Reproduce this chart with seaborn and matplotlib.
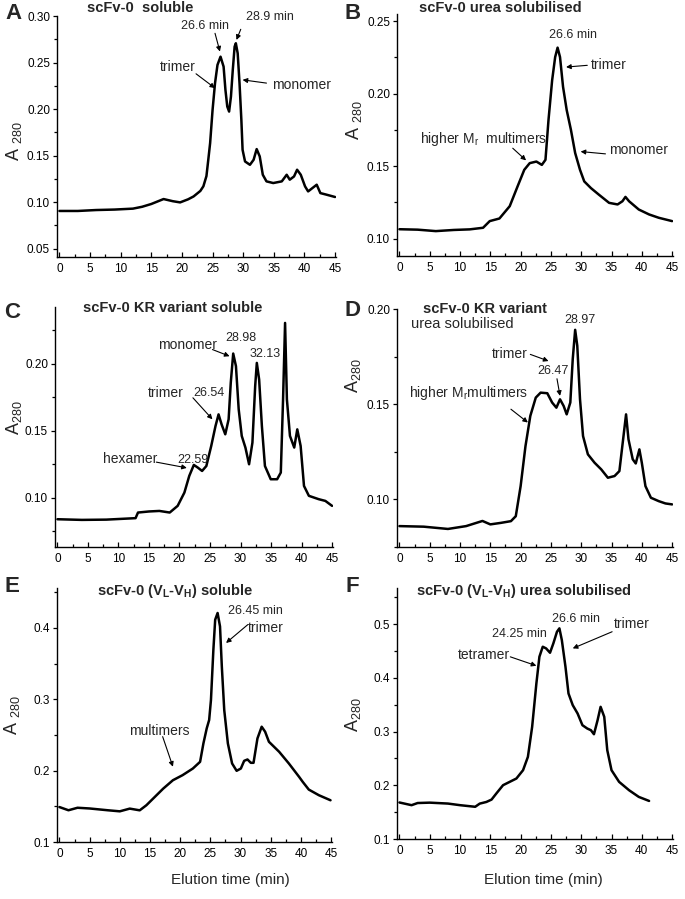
import matplotlib
matplotlib.use('Agg')
import matplotlib.pyplot as plt
from matplotlib.ticker import MultipleLocator, FormatStrFormatter
import seaborn as sns

sns.set_theme(style='ticks')
plt.rcParams['font.family'] = ['Liberation Sans', 'DejaVu Sans']
plt.rcParams['mathtext.default'] = 'regular'

# A: scFv-0 soluble
t_a = [0, 3, 6, 9, 12, 13.5, 15, 17, 18.5, 19.7, 21, 21.9, 23, 23.5, 24, 24.3, 24.6, 25.0, 25.4, 25.8,
       26.3, 26.8, 27.1, 27.4, 27.7, 28.0, 28.3, 28.6, 28.8, 29.1, 29.4, 29.7, 29.9, 30.3, 31.1, 31.7,
       32.2, 32.7, 33.2, 33.8, 34.9, 36.3, 37.1, 37.6, 38.3, 38.8, 39.4, 40.1, 40.6, 41.3, 42.0, 42.6,
       43.6, 45.0]
a_a = [0.0905, 0.0905, 0.0915, 0.092, 0.093, 0.095, 0.098, 0.1033, 0.101, 0.0997, 0.103, 0.1061, 0.112,
       0.117, 0.128, 0.1455, 0.1634, 0.1991, 0.2278, 0.2474, 0.2563, 0.2456, 0.2206, 0.2027, 0.1973,
       0.2134, 0.2421, 0.2671, 0.2707, 0.2599, 0.2278, 0.1884, 0.1562, 0.1437, 0.1401, 0.1455, 0.157,
       0.1491, 0.1294, 0.1223, 0.1205, 0.1223, 0.1294, 0.1241, 0.1276, 0.1348, 0.1294, 0.1169, 0.1115,
       0.1151, 0.1187, 0.1097, 0.108, 0.1055]

# B: scFv-0 urea solubilised
t_b = [0, 3, 6, 9, 11.6, 13.8, 14.9, 16.5, 18.2, 19.5, 20.6, 21.5, 22.6, 23.5, 24.1, 24.6, 25.2, 25.7,
       26.1, 26.5, 27.0, 27.6, 28.3, 29.0, 29.8, 30.5, 31.6, 32.9, 34.6, 36.0, 36.8, 37.3, 37.9, 39.5,
       41.2, 42.8, 45.0]
a_b = [0.1065, 0.1062, 0.1052, 0.106, 0.1064, 0.1075, 0.1121, 0.1139, 0.1224, 0.1361, 0.1475, 0.1521,
       0.1532, 0.1509, 0.1544, 0.1819, 0.2093, 0.2253, 0.2318, 0.2253, 0.2048, 0.1888, 0.1751, 0.1591,
       0.1475, 0.1395, 0.1349, 0.1304, 0.1247, 0.1236, 0.1258, 0.1288, 0.1258, 0.1201, 0.1167, 0.1144,
       0.1121]

# C: scFv-0 KR variant soluble
t_c = [0, 4, 8, 12.8, 13.2, 15, 16.7, 18.4, 19.7, 20.8, 21.6, 22.35, 23.0, 23.7, 24.4, 25.2, 25.9, 26.4,
       26.9, 27.5, 28.05, 28.4, 28.8, 29.25, 29.7, 30.2, 30.8, 31.4, 31.95, 32.4, 32.67, 33.05, 33.5, 34.0,
       34.95, 36.0, 36.6, 36.97, 37.3, 37.6, 38.1, 38.8, 39.3, 39.85, 40.4, 41.2, 42.8, 43.9, 45.0]
a_c = [0.0838, 0.0833, 0.0835, 0.0846, 0.0888, 0.0896, 0.090, 0.0888, 0.0938, 0.1037, 0.1162, 0.1244,
       0.1224, 0.1199, 0.1236, 0.1386, 0.1535, 0.1622, 0.1547, 0.1473, 0.1585, 0.1858, 0.2077, 0.1983,
       0.166, 0.1461, 0.1374, 0.1249, 0.1411, 0.1833, 0.2007, 0.1883, 0.1535, 0.1236, 0.1137, 0.1137,
       0.1187, 0.1734, 0.2306, 0.1734, 0.1461, 0.1374, 0.151, 0.1386, 0.1087, 0.1013, 0.0988, 0.0975,
       0.0938]

# D: scFv-0 KR variant urea solubilised
t_d = [0, 4, 8, 11, 13.7, 15, 16.75, 18.4, 19.2, 20.0, 20.8, 21.6, 22.5, 23.3, 24.4, 25.2, 25.9, 26.5,
       27.1, 27.6, 28.2, 28.6, 29.0, 29.35, 29.8, 30.3, 31.1, 32.2, 33.3, 34.4, 35.5, 36.3, 36.85, 37.4,
       37.8, 38.5, 39.0, 39.6, 40.0, 40.6, 41.5, 42.8, 43.9, 45.0]
a_d = [0.086, 0.0857, 0.0845, 0.086, 0.0887, 0.0869, 0.0877, 0.0886, 0.0912, 0.107, 0.128, 0.1439,
       0.1535, 0.1561, 0.1558, 0.1509, 0.1482, 0.1526, 0.1491, 0.1447, 0.1509, 0.1737, 0.1891, 0.1807,
       0.1526, 0.1333, 0.1237, 0.1193, 0.1158, 0.1114, 0.1123, 0.1149, 0.1298, 0.1447, 0.1316, 0.1211,
       0.1189, 0.1263, 0.1193, 0.107, 0.1009, 0.0991, 0.0979, 0.0974]

# E: scFv-0 (VL-VH) soluble
t_e = [0, 1.5, 3, 5, 8, 10, 11.65, 13.3, 14.4, 15.8, 17.2, 18.8, 20.4, 22.1, 23.3, 23.85, 24.4, 24.8,
       25.1, 25.5, 25.8, 26.2, 26.6, 26.9, 27.3, 27.9, 28.6, 29.35, 30.05, 30.6, 31.15, 31.7, 32.15, 32.8,
       33.5, 34.07, 34.7, 36.4, 38.0, 39.7, 40.3, 41.3, 42.97, 44.9]
a_e = [0.149, 0.1445, 0.148, 0.147, 0.1445, 0.143, 0.1468, 0.1444, 0.1515, 0.1632, 0.1749, 0.1866,
       0.1937, 0.203, 0.2124, 0.2382, 0.2593, 0.271, 0.2991, 0.3694, 0.4116, 0.421, 0.4022, 0.346, 0.285,
       0.2382, 0.2101, 0.1998, 0.203, 0.2138, 0.2157, 0.211, 0.211, 0.2452, 0.2616, 0.2546, 0.2405,
       0.2264, 0.2101, 0.1913, 0.1843, 0.1735, 0.1656, 0.1585]

# F: scFv-0 (VL-VH) urea solubilised
t_f = [0, 2, 3, 5, 8, 10, 12.5, 13.25, 14.35, 15.2, 16.0, 17.1, 18.2, 19.3, 20.4, 21.2, 21.9, 22.6, 23.1,
       23.65, 24.2, 24.85, 25.4, 26.0, 26.4, 26.8, 27.4, 27.9, 28.6, 29.4, 30.2, 31.0, 31.6, 32.1, 32.7,
       33.2, 33.8, 34.3, 35.0, 36.25, 37.9, 39.5, 41.2]
a_f = [0.168, 0.163, 0.167, 0.1677, 0.166, 0.163, 0.160, 0.1659, 0.169, 0.1734, 0.1849, 0.2002, 0.2064,
       0.2126, 0.2281, 0.2529, 0.3087, 0.3895, 0.4392, 0.4578, 0.4547, 0.4466, 0.464, 0.4857, 0.492,
       0.4702, 0.4205, 0.3708, 0.3491, 0.3336, 0.3118, 0.3056, 0.3025, 0.295, 0.3211, 0.346, 0.3274,
       0.2653, 0.2281, 0.2064, 0.1908, 0.1784, 0.1709]

LAB = 10      # peak names
NUM = 9       # retention times

panels = [
    dict(letter='A', rect=[0.0832, 0.7141, 0.4073, 0.2681], t=t_a, a=a_a, ylim=(0.041, 0.30),
         major=0.05, fmt='%.2f', letter_xy=(0.019, 0.9855), ylab_xy=(0.020, 0.843), ylab='A $_{280}$',
         titles=[(0.297, 1.033, 'scFv-0  soluble', 'bold')],
         texts=[(23.8, 0.289, '26.6 min', NUM), (34.3, 0.299, '28.9 min', NUM),
                (19.4, 0.2457, 'trimer', LAB), (39.6, 0.226, 'monomer', LAB)],
         arrows=[((25.4, 0.2814), (26.2, 0.2618)), ((29.6, 0.2857), (28.9, 0.2743)),
                 ((22.3, 0.2379), (25.4, 0.2225)), ((33.8, 0.2279), (29.9, 0.2314))]),
    dict(letter='B', rect=[0.5796, 0.7152, 0.4029, 0.2692], t=t_b, a=a_b, ylim=(0.088, 0.255),
         major=0.05, fmt='%.2f', letter_xy=(0.514, 0.9855), ylab_xy=(0.517, 0.866), ylab='A $_{280}$',
         titles=[(0.373, 1.025, 'scFv-0 urea solubilised', 'bold')],
         texts=[(28.7, 0.2402, '26.6 min', NUM), (34.5, 0.2196, 'trimer', LAB),
                (39.5, 0.1613, 'monomer', LAB), (13.8, 0.1686, 'higher M$_r$  multimers', LAB)],
         arrows=[((31.0, 0.2196), (27.5, 0.2184)), ((34.0, 0.1585), (29.9, 0.1601)),
                 ((18.7, 0.1624), (20.9, 0.154))]),
    dict(letter='C', rect=[0.0803, 0.3915, 0.4058, 0.2670], t=t_c, a=a_c, ylim=(0.063, 0.2425),
         major=0.05, fmt='%.2f', letter_xy=(0.0175, 0.652), ylab_xy=(0.020, 0.535), ylab='A$_{280}$',
         titles=[(0.423, 0.996, 'scFv-0 KR variant soluble', 'bold')],
         texts=[(21.4, 0.2139, 'monomer', LAB), (30.05, 0.2194, '28.98', NUM),
                (34.1, 0.2075, '32.13', NUM), (17.8, 0.1784, 'trimer', LAB), (24.9, 0.1784, '26.54', NUM),
                (11.85, 0.1286, 'hexamer', LAB), (22.2, 0.128, '22.59', NUM)],
         arrows=[((25.4, 0.2107), (28.2, 0.2057)), ((22.2, 0.1746), (25.4, 0.1585)),
                 ((16.2, 0.1265), (21.2, 0.1222))]),
    dict(letter='D', rect=[0.5796, 0.3915, 0.4029, 0.2647], t=t_d, a=a_d, ylim=(0.075, 0.20),
         major=0.05, fmt='%.2f', letter_xy=(0.514, 0.655), ylab_xy=(0.516, 0.582), ylab='A$_{280}$',
         titles=[(0.319, 1.0, 'scFv-0 KR variant', 'bold'), (0.237, 0.937, 'urea solubilised', 'normal')],
         texts=[(18.2, 0.1765, 'trimer', LAB), (25.4, 0.1675, '26.47', NUM), (29.8, 0.1945, '28.97', NUM),
                (11.4, 0.1561, 'higher M$_r$multimers', LAB)],
         arrows=[((21.6, 0.1762), (24.6, 0.1727)), ((26.0, 0.1634), (26.5, 0.1544)),
                 ((18.4, 0.1474), (21.2, 0.1404))]),
    dict(letter='E', rect=[0.0832, 0.0634, 0.4015, 0.2825], t=t_e, a=a_e, ylim=(0.1, 0.456),
         major=0.1, fmt='%.1f', letter_xy=(0.0175, 0.348), ylab_xy=(0.018, 0.205), ylab='A $_{280}$',
         titles=[(0.429, 0.99, 'scFv-0 (V$_L$-V$_H$) soluble', 'bold')],
         texts=[(32.5, 0.4234, '26.45 min', NUM), (34.2, 0.40, 'trimer', LAB),
                (16.6, 0.2557, 'multimers', LAB)],
         arrows=[((31.2, 0.4047), (27.6, 0.379)), ((17.1, 0.2477), (18.8, 0.2055))]),
    dict(letter='F', rect=[0.5796, 0.0667, 0.4029, 0.2792], t=t_f, a=a_f, ylim=(0.1, 0.567),
         major=0.1, fmt='%.1f', letter_xy=(0.514, 0.348), ylab_xy=(0.516, 0.205), ylab='A$_{280}$',
         titles=[(0.46, 0.99, 'scFv-0 (V$_L$-V$_H$) urea solubilised', 'bold')],
         texts=[(29.1, 0.5087, '26.6 min', NUM), (19.8, 0.4814, '24.25 min', NUM),
                (38.4, 0.50, 'trimer', LAB), (13.9, 0.4422, 'tetramer', LAB)],
         arrows=[((35.1, 0.4857), (28.6, 0.4547)), ((18.3, 0.439), (22.6, 0.4224))]),
]

fig = plt.figure(figsize=(6.85, 8.99), dpi=100)

for p in panels:
    ax = fig.add_axes(p['rect'])
    sns.lineplot(x=p['t'], y=p['a'], ax=ax, color='black', linewidth=1.8,
                 estimator=None, sort=False)
    ax.set_xlim(-0.4, 45.15)
    ax.set_ylim(*p['ylim'])
    ax.xaxis.set_major_locator(MultipleLocator(5))
    ax.xaxis.set_minor_locator(MultipleLocator(2.5))
    ax.yaxis.set_major_locator(MultipleLocator(p['major']))
    ax.yaxis.set_minor_locator(MultipleLocator(p['major'] / 2))
    ax.yaxis.set_major_formatter(FormatStrFormatter(p['fmt']))
    sns.despine(ax=ax)
    for s in ['left', 'bottom']:
        ax.spines[s].set_linewidth(1.0)
        ax.spines[s].set_color('black')
    ax.tick_params(axis='x', which='both', direction='in', labelsize=8.5, pad=4, width=0.9, colors='black')
    ax.tick_params(axis='x', which='major', length=3.5)
    ax.tick_params(axis='x', which='minor', length=2.5)
    ax.tick_params(axis='y', which='both', direction='out', labelsize=8.5, pad=2, width=0.9, colors='black')
    ax.tick_params(axis='y', which='major', length=3)
    ax.tick_params(axis='y', which='minor', length=2)
    ax.set_xlabel('')
    ax.set_ylabel('')

    for tx, ty, s, w in p['titles']:
        ax.text(tx, ty, s, transform=ax.transAxes, ha='center', va='center',
                fontsize=10.5, fontweight=w)
    for tx, ty, s, fs in p['texts']:
        ax.text(tx, ty, s, ha='center', va='center', fontsize=fs)
    for start, tip in p['arrows']:
        ax.annotate('', xy=tip, xytext=start,
                    arrowprops=dict(arrowstyle='-|>', color='black', lw=0.8,
                                    mutation_scale=7, shrinkA=0, shrinkB=0))

    fig.text(p['letter_xy'][0], p['letter_xy'][1], p['letter'], ha='center', va='center',
             fontsize=16, fontweight='bold')
    fig.text(p['ylab_xy'][0], p['ylab_xy'][1], p['ylab'], ha='center', va='center',
             rotation=90, fontsize=13)

fig.text(0.336, 0.021, 'Elution time (min)', ha='center', va='center', fontsize=11)
fig.text(0.793, 0.021, 'Elution time (min)', ha='center', va='center', fontsize=11)

fig.savefig('out.png', dpi=100, facecolor='white')
